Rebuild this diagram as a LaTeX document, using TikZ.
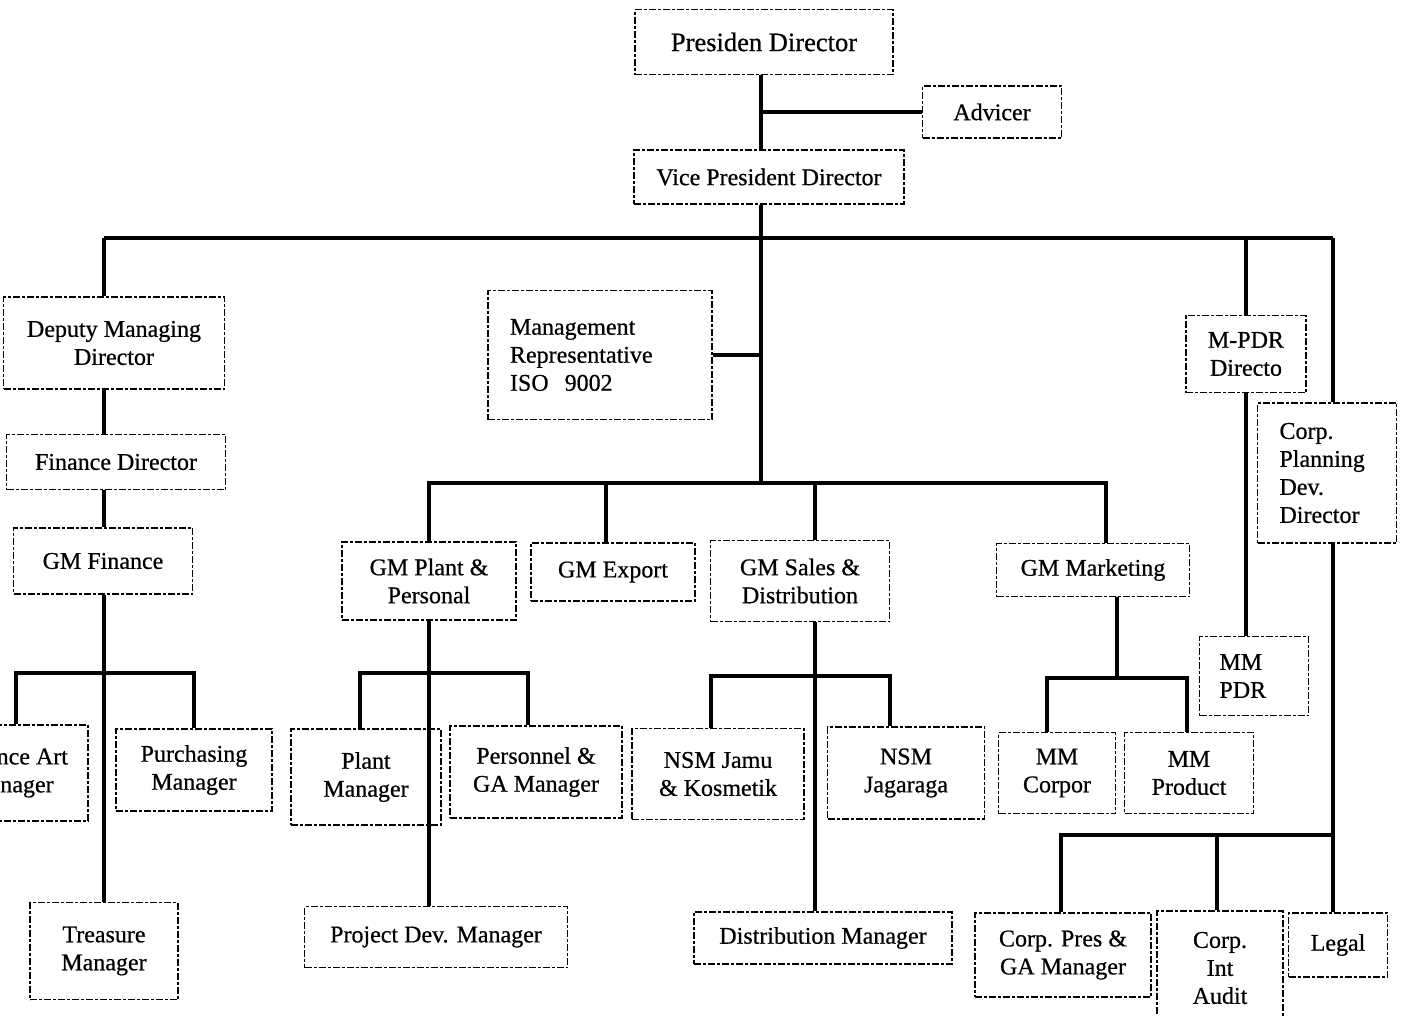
\documentclass[tikz,border=0pt]{standalone}
\usepackage{fontspec}
\setmainfont{Liberation Serif}
\newfontfamily\tebal{Liberation Serif}[FakeBold=0.6]
\begin{document}
\begin{tikzpicture}[x=1pt,y=-1pt,
        kotak/.style={draw, line width=1.1pt, dash pattern=on 7pt off 2pt on 3pt off 2pt, align=center, inner sep=0pt, font=\tebal\fontsize{24}{28}\selectfont},
        garis/.style={line width=3.4pt}]
        \useasboundingbox (0,0) rectangle (1406,1015);
        \clip (0,0) rectangle (1406,1015);

        % Pimpinan
        \node[kotak, minimum width=258, minimum height=65, font=\tebal\fontsize{26.5}{30}\selectfont] (pd) at (764,42) {Presiden Director};
        \node[kotak, minimum width=139, minimum height=52] (adv) at (992,112) {Advicer};
        \node[kotak, minimum width=270, minimum height=54] (vpd) at (769,177) {Vice President Director};

        % Cabang kiri (keuangan)
        \node[kotak, minimum width=221, minimum height=92] (dmd) at (114,343) {Deputy Managing\\Director};
        \node[kotak, minimum width=219, minimum height=55] (fd) at (116,462) {Finance Director};
        \node[kotak, minimum width=179, minimum height=66] (gmf) at (103,561) {GM Finance};
        \node[kotak, minimum width=154, minimum height=96] (fam) at (11,773) {Finance Art\\Manager};
        \node[kotak, minimum width=156, minimum height=82] (pm) at (194,770) {Purchasing\\Manager};
        \node[kotak, minimum width=148, minimum height=97] (tm) at (104,951) {Treasure\\Manager};

        % Cabang tengah
        \node[kotak, minimum width=224, minimum height=129, text width=180, align=left] (mr) at (600,355) {Management\\Representative\\ISO\ \ 9002};
        \node[kotak, minimum width=174, minimum height=78] (gmp) at (429,581) {GM Plant \&\\Personal};
        \node[kotak, minimum width=164, minimum height=58] (gme) at (613,572) {GM Export};
        \node[kotak, minimum width=179, minimum height=81] (gms) at (800,581) {GM Sales \&\\Distribution};
        \node[kotak, minimum width=193, minimum height=53] (gmm) at (1093,570) {GM Marketing};

        \node[kotak, minimum width=150, minimum height=96] (plm) at (366,777) {Plant\\Manager};
        \node[kotak, minimum width=172, minimum height=92] (pgm) at (536,772) {Personnel \&\\GA Manager};
        \node[kotak, minimum width=263, minimum height=61] (pdm) at (436,937) {Project Dev. Manager};
        \node[kotak, minimum width=172, minimum height=91] (nsm1) at (718,774) {NSM Jamu\\\& Kosmetik};
        \node[kotak, minimum width=157, minimum height=92] (nsm2) at (906,773) {NSM\\Jagaraga};
        \node[kotak, minimum width=258, minimum height=52] (dm) at (823,938) {Distribution Manager};
        \node[kotak, minimum width=117, minimum height=81] (mmc) at (1057,773) {MM\\Corpor};
        \node[kotak, minimum width=129, minimum height=81] (mmp) at (1189,773) {MM\\Product};

        % Cabang kanan
        \node[kotak, minimum width=120, minimum height=77] (mpdr) at (1246,354) {M-PDR\\Directo};
        \node[kotak, minimum width=139, minimum height=140, text width=95, align=left] (cpd) at (1327,473) {Corp.\\Planning\\Dev.\\Director};
        \node[kotak, minimum width=109, minimum height=79, text width=69, align=left] (mmpdr) at (1254,676) {MM\\PDR};
        \node[kotak, minimum width=176, minimum height=84] (cpg) at (1063,955) {Corp. Pres \&\\GA Manager};
        \node[kotak, minimum width=126, minimum height=114] (cia) at (1220,968) {Corp.\\Int\\Audit};
        \node[kotak, minimum width=99, minimum height=64] (legal) at (1338,945) {Legal};

        % Titik bantu garis
        \coordinate (sp) at (761,483);
        \coordinate (kiri) at (104,238);
        \coordinate (kanan) at (1333,238);
        \coordinate (bfin) at (104,673);
        \coordinate (bplant) at (433,673);
        \coordinate (bsales) at (816,676);
        \coordinate (bmkt) at (1117,678);
        \coordinate (korp) at (1333,835);

        % Garis pimpinan
        \draw[garis] (sp |- pd.south) -- (sp |- vpd.north);
        \draw[garis] (sp |- adv.west) -- (adv.west);
        \draw[garis] (sp |- vpd.south) -- (sp);
        \draw[garis] (kiri) -- (kanan);
        \draw[garis] (mr.east) -- (mr.east -| sp);

        % Garis kiri
        \draw[garis] (kiri) -- (kiri |- dmd.north);
        \draw[garis] (kiri |- dmd.south) -- (kiri |- fd.north);
        \draw[garis] (kiri |- fd.south) -- (kiri |- gmf.north);
        \draw[garis] (kiri |- gmf.south) -- (kiri |- tm.north);
        \draw[garis] ([xshift=5]fam.north) |- (bfin) -| (pm.north);

        % Garis tengah
        \draw[garis] (gmp.north) |- (sp) -| ([xshift=13]gmm.north);
        \draw[garis] (sp) -| ([xshift=15]gms.north);
        \draw[garis] (sp) -| ([xshift=-7]gme.north);
        \draw[garis] (gmp.south) -- (gmp.south |- pdm.north);
        \draw[garis] ([xshift=-6]plm.north) |- (bplant) -| ([xshift=-8]pgm.north);
        \draw[garis] ([xshift=15]gms.south) -- ([xshift=15]gms.south |- dm.north);
        \draw[garis] ([xshift=-7]nsm1.north) |- (bsales) -| ([xshift=-16]nsm2.north);
        \draw[garis] (bmkt |- gmm.south) -- (bmkt);
        \draw[garis] ([xshift=-10]mmc.north) |- (bmkt) -| ([xshift=-2]mmp.north);

        % Garis kanan
        \draw[garis] (mpdr.north |- kanan) -- (mpdr.north);
        \draw[garis] (mpdr.south) -- (mpdr.south |- mmpdr.north);
        \draw[garis] (kanan) -- (kanan |- cpd.north);
        \draw[garis] (kanan |- cpd.south) -- (kanan |- legal.north);
        \draw[garis] ([xshift=-2]cpg.north) |- (korp);
        \draw[garis] ([xshift=-3]cia.north) -- ([xshift=-3]cia.north |- korp);

    \end{tikzpicture}
\end{document}
